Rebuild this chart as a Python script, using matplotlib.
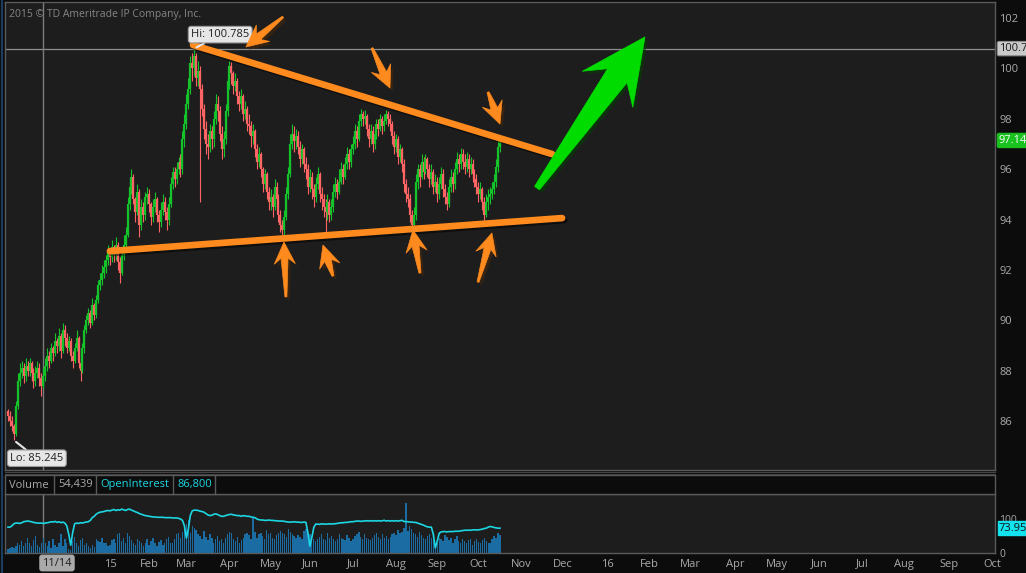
import numpy as np
import matplotlib
matplotlib.use("Agg")
import matplotlib.pyplot as plt
import matplotlib.patheffects as pe
from matplotlib.patches import Polygon, Rectangle
from matplotlib.lines import Line2D
from matplotlib.transforms import IdentityTransform, blended_transform_factory, ScaledTranslation

plt.rcParams['font.family'] = ['Open Sans', 'DejaVu Sans']

# ---- data ----
first_day = '2014-10-21'
holidays = ['2014-11-27', '2014-12-25', '2015-01-01', '2015-01-19', '2015-02-16',
            '2015-04-03', '2015-05-25', '2015-07-03', '2015-09-07']
first_open = 86.4

closes = [86.2, 86.0, 85.8, 85.5, 86.6, 87.6, 87.9, 88.1, 87.8, 88.2,
          88.0, 88.3, 87.9, 87.6, 87.9, 88.1, 87.7, 87.4, 87.8, 88.2,
          88.6, 88.4, 88.9, 88.7, 89.2, 89.0, 89.4, 88.8, 89.6, 89.3,
          88.9, 89.2, 88.6, 88.4, 88.9, 89.3, 88.3, 88.0, 88.9, 89.6,
          90.0, 90.3, 89.9, 90.6, 90.2, 90.8, 91.4, 91.6, 91.9,
          92.1, 92.4, 92.7, 92.5, 92.9, 92.6, 93.0, 92.3, 91.9, 92.6,
          93.0, 93.4, 94.6, 95.3, 95.7, 94.8, 94.3, 95.1, 93.8, 94.5,
          94.2, 94.9, 95.0, 94.6, 94.1, 94.5, 94.8, 94.2, 93.9, 94.4,
          94.7, 94.3, 94.0, 94.6, 95.4, 95.9, 95.6, 96.0, 96.3,
          96.0, 97.2, 97.8, 98.6, 99.2, 100.2, 100.0, 100.5, 99.6, 99.9,
          99.2, 98.4, 97.6, 97.0, 96.9, 97.5, 97.2, 98.0, 98.6, 98.3,
          97.4, 96.8, 97.2, 98.3, 99.5, 100.1, 99.8, 99.3, 99.5, 98.9,
          98.6, 98.9, 98.2, 98.4, 97.8, 97.7, 97.3, 97.5, 96.8,
          96.3, 96.6, 96.0, 95.4, 95.8, 95.1, 94.7, 94.9, 94.5, 95.3,
          94.8, 94.2, 93.8, 93.6, 94.1, 95.0, 95.8, 97.0, 97.4, 97.1,
          97.3, 96.9, 96.4, 96.8, 96.2, 96.0, 95.3, 95.7, 95.2, 94.9,
          95.4, 95.8, 95.0, 94.8, 94.5, 94.3, 94.7, 94.2, 94.5, 95.1,
          95.4, 95.1, 95.5, 96.0, 95.7, 96.2, 96.6, 96.3, 96.8,
          97.0, 97.5, 97.2, 97.9, 98.2, 98.0, 98.1, 97.6, 97.2, 97.5,
          97.0, 97.4, 97.8, 97.6, 98.0, 97.7, 97.9, 98.2, 98.0, 97.8,
          97.3, 96.9, 97.2, 96.5, 96.8, 96.2, 95.4, 95.0, 94.8,
          94.2, 93.8, 94.2, 95.5, 96.0, 95.7, 96.3, 95.9, 96.4, 96.0,
          95.6, 95.9, 95.3, 95.5, 95.0, 95.4, 95.8, 95.2, 94.9, 94.6,
          95.3, 95.7, 95.4, 96.0, 96.4, 96.2, 96.6, 96.3, 96.1,
          96.4, 96.0, 96.2, 95.8, 95.6, 95.3, 95.0, 95.2, 94.7, 94.2,
          94.7, 94.9, 95.0, 95.2, 95.5, 96.1, 96.9, 97.14]

highs = [86.5, 86.4, 86.2, 85.9, 86.8, 87.9, 88.3, 88.4, 88.3, 88.5,
         88.4, 88.5, 88.4, 88.1, 88.2, 88.4, 88.3, 87.9, 88.1, 88.5,
         88.9, 88.8, 89.1, 89.0, 89.5, 89.3, 89.7, 89.5, 89.9, 89.8,
         89.5, 89.4, 89.3, 88.8, 89.1, 89.6, 89.4, 88.5, 89.1, 89.8,
         90.2, 90.5, 90.4, 90.9, 90.7, 91.0, 91.6, 91.9, 92.2,
         92.4, 92.6, 93.0, 92.8, 93.2, 93.0, 93.3, 93.1, 92.5, 92.8,
         93.4, 93.7, 94.9, 95.6, 96.0, 95.8, 94.9, 95.4, 95.2, 94.8,
         94.7, 95.1, 95.3, 95.2, 94.7, 94.8, 95.1, 94.9, 94.4, 94.7,
         95.0, 94.9, 94.5, 94.9, 95.7, 96.1, 96.1, 96.3, 96.5,
         96.6, 97.5, 98.2, 99.0, 99.6, 100.5, 100.6, 100.785, 100.6, 100.3,
         100.1, 99.4, 98.6, 97.9, 97.4, 97.8, 97.7, 98.3, 99.0, 98.9,
         98.5, 97.7, 97.5, 98.6, 99.8, 100.3, 100.25, 99.9, 99.8, 99.6,
         99.1, 99.2, 99.0, 98.7, 98.5, 98.2, 97.9, 97.8, 97.6,
         97.0, 96.9, 96.7, 96.1, 96.0, 95.9, 95.3, 95.2, 95.0, 95.6,
         95.5, 95.0, 94.4, 94.0, 94.4, 95.3, 96.1, 97.4, 97.8, 97.7,
         97.6, 97.5, 97.1, 97.0, 96.9, 96.5, 96.2, 96.0, 95.9, 95.4,
         95.7, 96.1, 95.9, 95.3, 95.0, 94.8, 95.0, 94.8, 94.8, 95.4,
         95.7, 95.6, 96.0, 96.3, 96.2, 96.5, 96.9, 96.8, 97.0,
         97.3, 97.8, 97.7, 98.2, 98.4, 98.3, 98.35, 98.2, 97.8, 97.8,
         97.7, 97.6, 98.0, 98.0, 98.2, 98.1, 98.2, 98.35, 98.3, 98.2,
         97.9, 97.5, 97.4, 97.3, 97.0, 96.9, 96.4, 95.6, 95.3,
         95.0, 94.4, 94.5, 95.8, 96.2, 96.2, 96.6, 96.5, 96.6, 96.5,
         96.2, 96.2, 96.0, 95.8, 95.7, 95.7, 96.1, 96.0, 95.4, 95.1,
         95.6, 96.0, 95.9, 96.3, 96.7, 96.6, 96.85, 96.8, 96.6,
         96.7, 96.6, 96.5, 96.4, 96.0, 95.8, 95.5, 95.5, 95.3, 94.9,
         95.0, 95.2, 95.3, 95.5, 95.8, 96.4, 97.3, 97.3]

lows = [86.0, 85.8, 85.6, 85.245, 85.4, 86.5, 87.4, 87.7, 87.5, 87.6,
        87.8, 87.8, 87.6, 87.3, 87.4, 87.7, 87.4, 87.0, 87.3, 87.6,
        88.0, 88.1, 88.3, 88.4, 88.6, 88.7, 88.8, 88.5, 88.7, 89.0,
        88.7, 88.8, 88.4, 88.1, 88.3, 88.8, 88.1, 87.6, 87.9, 88.7,
        89.5, 89.8, 89.7, 89.8, 90.0, 90.1, 90.7, 91.2, 91.4,
        91.7, 91.9, 92.2, 92.2, 92.3, 92.3, 92.4, 92.0, 91.5, 91.8,
        92.4, 92.8, 93.3, 94.4, 95.0, 94.6, 93.9, 94.2, 93.3, 93.6,
        93.9, 94.0, 94.6, 94.3, 93.8, 93.9, 94.3, 93.9, 93.5, 93.7,
        94.2, 94.0, 93.6, 93.8, 94.5, 95.2, 95.3, 95.4, 95.8,
        95.7, 95.8, 96.9, 97.6, 98.4, 99.0, 99.5, 99.7, 99.3, 99.3,
        94.7, 98.1, 97.2, 96.6, 96.4, 96.7, 96.8, 96.9, 97.8, 97.9,
        97.1, 96.4, 96.5, 97.0, 98.1, 99.2, 99.4, 99.0, 99.1, 98.6,
        98.3, 98.4, 97.9, 98.0, 97.5, 97.4, 96.9, 97.0, 96.5,
        96.0, 96.1, 95.7, 95.1, 95.2, 94.8, 94.4, 94.4, 94.1, 94.4,
        94.5, 93.9, 93.5, 93.3, 93.4, 94.0, 94.8, 95.7, 96.8, 96.7,
        96.8, 96.6, 96.1, 96.2, 95.9, 95.6, 95.0, 95.1, 94.8, 94.5,
        94.7, 95.2, 94.7, 94.4, 94.1, 93.5, 94.0, 93.9, 94.0, 94.3,
        94.9, 94.8, 95.0, 95.4, 95.4, 95.6, 96.0, 96.0, 96.1,
        96.6, 96.8, 96.9, 97.1, 97.7, 97.7, 97.8, 97.3, 96.9, 97.0,
        96.7, 96.8, 97.2, 97.3, 97.5, 97.4, 97.5, 97.8, 97.7, 97.5,
        97.0, 96.6, 96.7, 96.2, 96.3, 95.9, 95.1, 94.7, 94.5,
        93.9, 93.5, 93.6, 94.0, 95.2, 95.3, 95.6, 95.6, 95.8, 95.7,
        95.3, 95.4, 95.0, 95.1, 94.7, 94.8, 95.2, 94.9, 94.6, 94.4,
        94.5, 95.1, 95.1, 95.2, 95.8, 95.9, 96.0, 96.0, 95.8,
        95.9, 95.7, 95.8, 95.5, 95.3, 95.0, 94.7, 94.8, 94.4, 94.0,
        94.1, 94.4, 94.6, 94.8, 95.0, 95.3, 95.9, 96.7]

# volume and open interest (thousands, as drawn on the lower panel scale)
volume = [12, 15, 18, 14, 22, 30, 25, 35, 20, 28,
          45, 30, 22, 38, 50, 25, 18, 30, 45, 28,
          20, 35, 15, 42, 25, 18, 30, 55, 20, 40,
          28, 12, 10, 35, 48, 30, 22, 38, 45, 25,
          30, 20, 15, 25, 18, 40, 35, 32, 45,
          28, 30, 22, 25, 38, 40, 30, 55, 60, 35,
          45, 28, 60, 50, 38, 30, 25, 42, 35, 28,
          22, 30, 40, 25, 35, 45, 28, 20, 32, 38,
          25, 30, 40, 48, 28, 30, 42, 55, 60,
          45, 62, 70, 85, 97, 60, 80, 75, 68, 55,
          50, 42, 65, 48, 38, 55, 45, 30, 42, 50,
          35, 40, 28, 45, 55, 62, 58, 40, 35, 48,
          30, 38, 45, 55, 60, 52, 40, 105, 62,
          45, 55, 60, 50, 42, 68, 55, 60, 45, 40,
          52, 58, 65, 60, 55, 48, 70, 62, 55, 50,
          45, 52, 48, 40, 65, 72, 60, 55, 50, 42,
          35, 40, 48, 55, 42, 38, 60, 45, 50, 40,
          35, 42, 55, 45, 40, 38, 52, 45, 35,
          40, 50, 55, 62, 48, 42, 55, 45, 40, 38,
          45, 52, 60, 48, 40, 55, 45, 50, 42, 48,
          55, 60, 52, 68, 58, 62, 75, 147, 65,
          80, 72, 60, 55, 48, 62, 52, 45, 40, 50,
          55, 45, 38, 22, 30, 45, 40, 35, 52, 48,
          38, 45, 30, 42, 50, 35, 28, 40, 35,
          30, 38, 42, 25, 35, 40, 32, 28, 38, 45,
          35, 30, 28, 42, 50, 45, 60, 54]

open_int = [76, 76, 80, 86, 88, 88, 87, 89, 92, 93,
            94, 93, 92, 90, 89, 88, 88, 88, 87, 88,
            89, 90, 92, 91, 93, 90, 92, 89, 91, 88,
            80, 55, 23, 60, 86, 88, 87, 89, 88, 90,
            91, 92, 96, 104, 108, 114, 118, 120, 121,
            122, 124, 125, 124, 126, 128, 125, 127, 126, 129,
            127, 125, 128, 129, 126, 124, 121, 119, 116, 114,
            112, 110, 109, 108, 107, 106, 106, 105, 105, 105,
            105, 104, 104, 104, 104, 103, 103, 103, 102,
            100, 96, 80, 44, 70, 110, 124, 126, 126, 125,
            123, 122, 120, 116, 112, 110, 111, 114, 115, 113,
            110, 108, 108, 110, 112, 113, 114, 112, 111, 110,
            110, 108, 110, 109, 108, 108, 106, 105, 104,
            100, 98, 97, 97, 96, 96, 97, 96, 96, 95,
            95, 94, 94, 94, 93, 92, 91, 91, 91, 92,
            91, 91, 90, 90, 91, 90, 60, 20, 45, 75,
            85, 85, 84, 86, 85, 85, 85, 86, 85, 86,
            86, 87, 88, 89, 89, 90, 90, 91, 92,
            92, 93, 94, 94, 93, 94, 94, 95, 94, 95,
            94, 95, 94, 95, 94, 95, 96, 94, 95, 94,
            95, 94, 95, 94, 95, 96, 93, 92, 92,
            91, 91, 90, 90, 88, 86, 84, 82, 79, 77,
            76, 76, 55, 15, 35, 58, 62, 63, 63, 62,
            63, 63, 63, 64, 64, 64, 65, 66, 67,
            67, 67, 67, 68, 68, 68, 68, 69, 70, 72,
            73, 76, 78, 77, 75, 74, 73, 73]

month_starts = ['2015-01-01', '2015-02-01', '2015-03-01', '2015-04-01', '2015-05-01',
                '2015-06-01', '2015-07-01', '2015-08-01', '2015-09-01', '2015-10-01',
                '2015-11-01', '2015-12-01', '2016-01-01', '2016-02-01', '2016-03-01',
                '2016-04-01', '2016-05-01', '2016-06-01', '2016-07-01', '2016-08-01',
                '2016-09-01', '2016-10-01']
month_labels = ['15', 'Feb', 'Mar', 'Apr', 'May', 'Jun', 'Jul', 'Aug', 'Sep', 'Oct',
                'Nov', 'Dec', '16', 'Feb', 'Mar', 'Apr', 'May', 'Jun', 'Jul', 'Aug',
                'Sep', 'Oct']
price_ticks = [86, 88, 90, 92, 94, 96, 98, 100, 102]
cursor_day = '2014-11-14'
hi_price = 100.785
lo_price = 85.245
last_price = 97.14
last_vol = '54,439'
last_oi = '86,800'
oi_study = 73.95

# hand drawn annotations, in (bar number, price)
upper_trend = [(94.4, 100.93), (277.6, 96.60)]
lower_trend = [(52.0, 92.75), (282.7, 94.06)]
orange_arrows = [((140.3, 102.04), (121.4, 100.85)),
                 ((185.7, 100.81), (194.9, 99.22)),
                 ((244.9, 99.06), (251.0, 97.79)),
                 ((141.8, 90.93), (140.8, 93.11)),
                 ((165.8, 91.76), (160.7, 92.99)),
                 ((210.2, 91.88), (206.6, 93.59)),
                 ((239.8, 91.52), (246.9, 93.47))]
green_arrow = ((269.9, 95.25), (325.0, 101.25))

# ---- helpers ----
def bday(d):
    return int(np.busday_count(first_day, d, holidays=holidays))

def future_bday(d):
    # the empty area to the right counts plain weekdays
    return bday('2015-10-21') + int(np.busday_count('2015-10-21', d))

W, H = 1026, 573
BG = '#1d1d1d'
DARK = '#0c0c0c'
GRID = '#5a5a5a'
TXT = '#a9a9a9'

fig = plt.figure(figsize=(W / 100, H / 100), dpi=100, facecolor=DARK)

def rect(l, t, r, b):
    return [l / W, 1 - b / H, (r - l) / W, (b - t) / H]

ax = fig.add_axes(rect(5, 2, 995, 470))
axv = fig.add_axes(rect(5, 494, 995, 553), sharex=ax)
for a in (ax, axv):
    a.set_facecolor(BG)
    for s in a.spines.values():
        s.set_color(GRID)
        s.set_linewidth(1)

x0_px, dx_px = 8.0, 1.96
ax.set_xlim((5 - x0_px) / dx_px, (995 - x0_px) / dx_px)
ax.set_ylim(102 - (470 - 18) / 25.2, 102 + 16 / 25.2)

# ---- price bars ----
c = np.array(closes)
o = np.r_[first_open, c[:-1]]
idx = np.arange(len(c))
cols = np.where(c >= o, '#14c32a', '#ff6464')
ax.vlines(idx, lows, highs, colors=cols, lw=0.8, zorder=3)
ax.vlines(idx, np.minimum(o, c), np.maximum(o, c), colors=cols, lw=1.6, zorder=3)

ax.axhline(hi_price, color='#8f8f8f', lw=0.9, zorder=2)
cur = bday(cursor_day)
ax.axvline(cur, color='#7c7c7c', lw=1, zorder=2)
axv.axvline(cur, color='#7c7c7c', lw=1, zorder=2)

ax.yaxis.tick_right()
ax.set_yticks(price_ticks)
ax.set_yticklabels([str(p) for p in price_ticks])
ax.tick_params(axis='y', length=0, pad=3, labelsize=8, labelcolor=TXT)
ax.tick_params(axis='x', length=0, labelbottom=False)

ax.text(4 / 990, 1 - 12 / 468, '2015 \u00a9 TD Ameritrade IP Company, Inc.',
        transform=ax.transAxes, color='#858585', fontsize=7.5, va='center', ha='left')

i_hi = int(np.argmax(highs))
i_lo = int(np.argmin(lows))
lab = dict(boxstyle='round,pad=0.25', fc='#e6e6e6', ec='#9a9a9a', lw=0.8)
ax.annotate('Hi: 100.785', xy=(i_hi, hi_price), xytext=(26, 14), textcoords='offset pixels',
            fontsize=8, color='#202020', ha='center', va='center', bbox=lab, zorder=6,
            arrowprops=dict(arrowstyle='-', color='#e6e6e6', lw=1.5, shrinkA=0, shrinkB=2))
ax.annotate('Lo: 85.245', xy=(i_lo, lo_price), xytext=(23, -18), textcoords='offset pixels',
            fontsize=8, color='#202020', ha='center', va='center', bbox=lab, zorder=6,
            arrowprops=dict(arrowstyle='-', color='#e6e6e6', lw=1.5, shrinkA=0, shrinkB=2))

ry = blended_transform_factory(ax.transAxes, ax.transData)
ax.text(1.004, hi_price, '100.785', transform=ry, fontsize=8, color='#1a1a1a', va='center',
        ha='left', clip_on=False,
        bbox=dict(boxstyle='round,pad=0.15', fc='#c9c9c9', ec='#8a8a8a', lw=0.8))
ax.text(1.004, last_price, '97.14', transform=ry, fontsize=8, color='white', va='center',
        ha='left', clip_on=False,
        bbox=dict(boxstyle='round,pad=0.15', fc='#19c21f', ec='#19c21f', lw=0.8))

# ---- volume / open interest panel ----
axv.bar(idx, volume, width=0.7, color='#1b6ca3', zorder=2)
axv.plot(idx, open_int, color='#1cd6e2', lw=1.2, zorder=3)
axv.set_ylim(0, 59 / 0.34)
axv.yaxis.tick_right()
axv.set_yticks([0, 100])
axv.set_yticklabels(['0', '100'])
axv.tick_params(axis='y', length=0, pad=3, labelsize=7.5, labelcolor=TXT)
tick_pos = [bday(d) if d < '2015-10-21' else future_bday(d) for d in month_starts]
axv.set_xticks(tick_pos)
axv.set_xticklabels(month_labels)
axv.tick_params(axis='x', length=0, pad=4, labelsize=8, labelcolor=TXT)
nudge = ScaledTranslation(4 / 100, 0, fig.dpi_scale_trans)
for t in axv.get_xticklabels():
    t.set_transform(t.get_transform() + nudge)
ryv = blended_transform_factory(axv.transAxes, axv.transData)
axv.text(1.004, open_int[-1], '%.2f' % oi_study, transform=ryv, fontsize=8, color='#111111',
         va='center', ha='left', clip_on=False,
         bbox=dict(boxstyle='square,pad=0.12', fc='#12e3ee', ec='#12e3ee'))

# header row of the lower panel
fig.add_artist(Rectangle((5 / W, 1 - 494 / H), 990 / W, 19 / H, transform=fig.transFigure,
                         fc=DARK, ec=GRID, lw=1))
for xs in (54, 96, 173, 215):
    fig.add_artist(Line2D([xs / W, xs / W], [1 - 494 / H, 1 - 475 / H], color=GRID, lw=1))
for xs, s, col in ((9, 'Volume', TXT), (58, last_vol, TXT),
                   (100, 'OpenInterest', '#1cd6e2'), (177, last_oi, '#1cd6e2')):
    fig.text(xs / W, 1 - 485 / H, s, color=col, fontsize=8, va='center', ha='left')
for ys in (471.5, 473.5):
    fig.add_artist(Line2D([5 / W, 995 / W], [1 - ys / H, 1 - ys / H], color='#444444', lw=0.8))
fig.add_artist(Line2D([2 / W, 2 / W], [0, 1], color='#1c3d5c', lw=1.5))

fig.text(57 / W, 1 - 563 / H, '11/14', fontsize=8, color='#1e1e1e', ha='center', va='center',
         bbox=dict(boxstyle='round,pad=0.2', fc='#a9a9a9', ec='#a9a9a9'), zorder=10)

# ---- trend lines and arrows ----
shadow = [pe.SimpleLineShadow(offset=(1.5, -1.5), alpha=0.5), pe.Normal()]
for line in (upper_trend, lower_trend):
    xs, ys = zip(*line)
    ax.plot(xs, ys, color='#ff8a1d', lw=4.8, solid_capstyle='round', zorder=4,
            path_effects=shadow)

def arrow(tail, tip, head_len, head_w, shaft_w, tail_w, color):
    t = ax.transData.transform(tail)
    p = ax.transData.transform(tip)
    d = p - t
    u = d / np.hypot(*d)
    n = np.array([-u[1], u[0]])
    pts = [p,
           p - u * head_len * 1.15 + n * head_w,
           p - u * head_len * 0.85 + n * shaft_w,
           t + n * tail_w,
           t - n * tail_w,
           p - u * head_len * 0.85 - n * shaft_w,
           p - u * head_len * 1.15 - n * head_w]
    poly = Polygon(pts, closed=True, transform=IdentityTransform(), fc=color, ec=color,
                   lw=0.5, joinstyle='round', zorder=6,
                   path_effects=[pe.SimplePatchShadow(offset=(2, -2), alpha=0.55), pe.Normal()])
    fig.add_artist(poly)

for tail, tip in orange_arrows:
    arrow(tail, tip, 19, 10.5, 3.5, 1.0, '#ff8a1d')
arrow(green_arrow[0], green_arrow[1], 56, 31, 12, 3, '#00dc00')

fig.savefig('out.png', dpi=100, facecolor=DARK)
